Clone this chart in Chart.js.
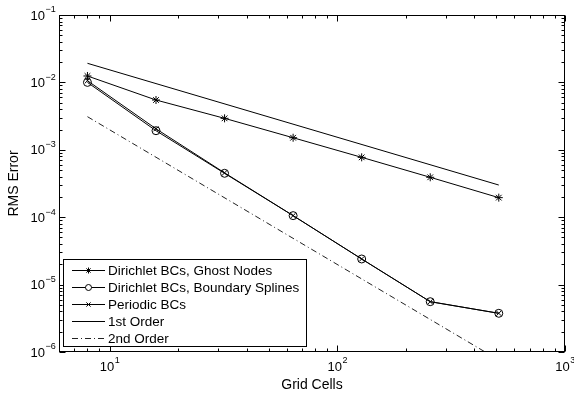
<!DOCTYPE html>
<html>
<head>
<meta charset="utf-8">
<script src="https://cdn.jsdelivr.net/npm/chart.js@4/dist/chart.umd.min.js"></script>
<style>
  html, body { margin: 0; padding: 0; background: #fff; }
  #wrap { width: 574px; height: 393px; }
</style>
</head>
<body>
<div id="wrap"><canvas id="errChart"></canvas></div>
<script>
// convergence data: RMS error vs number of grid cells
const cells = [8, 16, 32, 64, 128, 256, 512];
const ghostNodeErr = [0.01245, 0.00548, 0.00293, 0.00151, 0.000773, 0.000391, 0.000195];
const splineErr = [0.0100, 0.00192, 0.000448, 0.0001055, 0.000024, 0.00000558, 0.00000375];
const periodicErr = [0.0106, 0.00205, 0.000455, 0.0001055, 0.000024, 0.00000558, 0.00000375];

// reference slopes, drawn between their end points
const refCells = [8, 512];
const firstOrderErr = [0.0192, 0.0003];
const secondOrderErr = [0.0031, 0.00000076];

const xMajorTicks = [1, 2, 3];        // exponents of 10 on x
const yMajorTicks = [-6, -5, -4, -3, -2, -1];

const seriesNames = ['Dirichlet BCs, Ghost Nodes', 'Dirichlet BCs, Boundary Splines', 'Periodic BCs', '1st Order', '2nd Order'];

const FONT = '"Liberation Sans", Arial, Helvetica, sans-serif';
const DASHDOT = [6, 3, 1, 3];

function pts(xs, ys) {
    return xs.map((v, i) => ({ x: v, y: ys[i] }));
}

function lineSet(label, data, extra) {
    return Object.assign({
        label: label,
        data: data,
        borderColor: '#000',
        backgroundColor: 'rgba(0,0,0,0)',
        borderWidth: 1,
        pointRadius: 0,
        pointBorderColor: '#000',
        pointBackgroundColor: 'rgba(0,0,0,0)',
        pointBorderWidth: 1,
        tension: 0
    }, extra || {});
}

// draw "10" with a raised exponent; align: 'right' or 'center'
function drawPow(ctx, exp, x, y, align) {
    const base = '10';
    const sup = exp < 0 ? '\u2212' + Math.abs(exp) : String(exp);
    ctx.font = '13px ' + FONT;
    const wb = ctx.measureText(base).width;
    ctx.font = '9px ' + FONT;
    const ws = ctx.measureText(sup).width;
    let left;
    if (align === 'right') left = x - wb;
    else left = x - (wb + ws) / 2;
    ctx.textAlign = 'left';
    ctx.textBaseline = 'middle';
    ctx.font = '13px ' + FONT;
    ctx.fillText(base, left, y);
    ctx.font = '9px ' + FONT;
    ctx.fillText(sup, left + wb + 0.5, y - 6);
}

// axes box, inward ticks on all sides, labels and legend
const axesBox = {
    id: 'axesBox',
    afterDraw(chart) {
        const ctx = chart.ctx;
        const a = chart.chartArea;
        const xs = chart.scales.x, ys = chart.scales.y;
        const L = Math.round(a.left) + 0.5, R = Math.round(a.right) - 0.5;
        const T = Math.round(a.top) + 0.5, B = Math.round(a.bottom) - 0.5;
        ctx.save();
        ctx.strokeStyle = '#000';
        ctx.fillStyle = '#000';
        ctx.lineWidth = 1;

        // x ticks
        for (let e = 0; e <= 3; e++) {
            for (let m = 1; m <= 9; m++) {
                const v = m * Math.pow(10, e);
                if (v < xs.min || v > xs.max) continue;
                const px = Math.round(xs.getPixelForValue(v)) + 0.5;
                const len = m === 1 ? 6 : 3;
                ctx.beginPath();
                ctx.moveTo(px, B); ctx.lineTo(px, B - len);
                ctx.moveTo(px, T); ctx.lineTo(px, T + len);
                ctx.stroke();
            }
        }
        // y ticks
        for (let e = -6; e <= -1; e++) {
            for (let m = 1; m <= 9; m++) {
                const v = m * Math.pow(10, e);
                if (v < ys.min * 0.999 || v > ys.max * 1.001) continue;
                const py = Math.round(ys.getPixelForValue(v)) + 0.5;
                const len = m === 1 ? 6 : 3;
                ctx.beginPath();
                ctx.moveTo(L, py); ctx.lineTo(L + len, py);
                ctx.moveTo(R, py); ctx.lineTo(R - len, py);
                ctx.stroke();
            }
        }
        ctx.strokeRect(L, T, R - L, B - T);

        // tick labels
        xMajorTicks.forEach(e => {
            drawPow(ctx, e, xs.getPixelForValue(Math.pow(10, e)), 367, 'center');
        });
        yMajorTicks.forEach(e => {
            drawPow(ctx, e, 45, ys.getPixelForValue(Math.pow(10, e)) + 1, 'right');
        });

        // axis titles
        ctx.font = '14px ' + FONT;
        ctx.textAlign = 'center';
        ctx.textBaseline = 'middle';
        ctx.fillText('Grid Cells', (a.left + a.right) / 2, 385);
        ctx.save();
        ctx.translate(14, (a.top + a.bottom) / 2);
        ctx.rotate(-Math.PI / 2);
        ctx.fillText('RMS Error', 0, 0);
        ctx.restore();

        // legend
        const bx = 63.5, by = 259.5, bw = 243, bh = 87;
        ctx.fillStyle = '#fff';
        ctx.fillRect(bx, by, bw, bh);
        ctx.strokeRect(bx, by, bw, bh);
        ctx.font = '13.5px ' + FONT;
        ctx.textAlign = 'left';
        ctx.textBaseline = 'middle';
        chart.data.datasets.forEach((ds, i) => {
            const ry = 270.5 + i * 17;
            ctx.strokeStyle = ds.borderColor;
            ctx.lineWidth = ds.borderWidth;
            ctx.setLineDash(ds.borderDash || []);
            ctx.beginPath();
            ctx.moveTo(72, ry); ctx.lineTo(105, ry);
            ctx.stroke();
            ctx.setLineDash([]);
            if (ds.pointRadius > 0) {
                ctx.fillStyle = '#fff';
                Chart.helpers.drawPoint(ctx, {
                    pointStyle: ds.pointStyle,
                    radius: 3,
                    rotation: 0,
                    borderWidth: 1
                }, 88.5, ry);
            }
            ctx.fillStyle = '#000';
            ctx.fillText(seriesNames[i], 108, ry + 1);
        });
        ctx.restore();
    }
};

const ctx = document.getElementById('errChart').getContext('2d');
new Chart(ctx, {
    type: 'line',
    data: {
        datasets: [
            lineSet(seriesNames[0], pts(cells, ghostNodeErr), { pointRadius: 4, pointStyle: 'star' }),
            lineSet(seriesNames[1], pts(cells, splineErr), { pointRadius: 4, pointStyle: 'circle' }),
            lineSet(seriesNames[2], pts(cells, periodicErr), { pointRadius: 3.5, pointStyle: 'crossRot' }),
            lineSet(seriesNames[3], pts(refCells, firstOrderErr)),
            lineSet(seriesNames[4], pts(refCells, secondOrderErr), { borderColor: '#222', borderDash: DASHDOT })
        ]
    },
    options: {
        responsive: true,
        maintainAspectRatio: false,
        animation: false,
        events: [],
        layout: { padding: { top: 15, right: 9, left: 0, bottom: 0 } },
        plugins: {
            legend: { display: false },
            tooltip: { enabled: false }
        },
        scales: {
            x: {
                type: 'logarithmic',
                min: 6,
                max: 1000,
                grid: { display: false },
                border: { display: false },
                ticks: { display: false },
                afterFit(scale) { scale.height = 41; }
            },
            y: {
                type: 'logarithmic',
                min: 1e-6,
                max: 1e-1,
                grid: { display: false },
                border: { display: false },
                ticks: { display: false },
                afterFit(scale) { scale.width = 59; }
            }
        }
    },
    plugins: [axesBox]
});
</script>
</body>
</html>
